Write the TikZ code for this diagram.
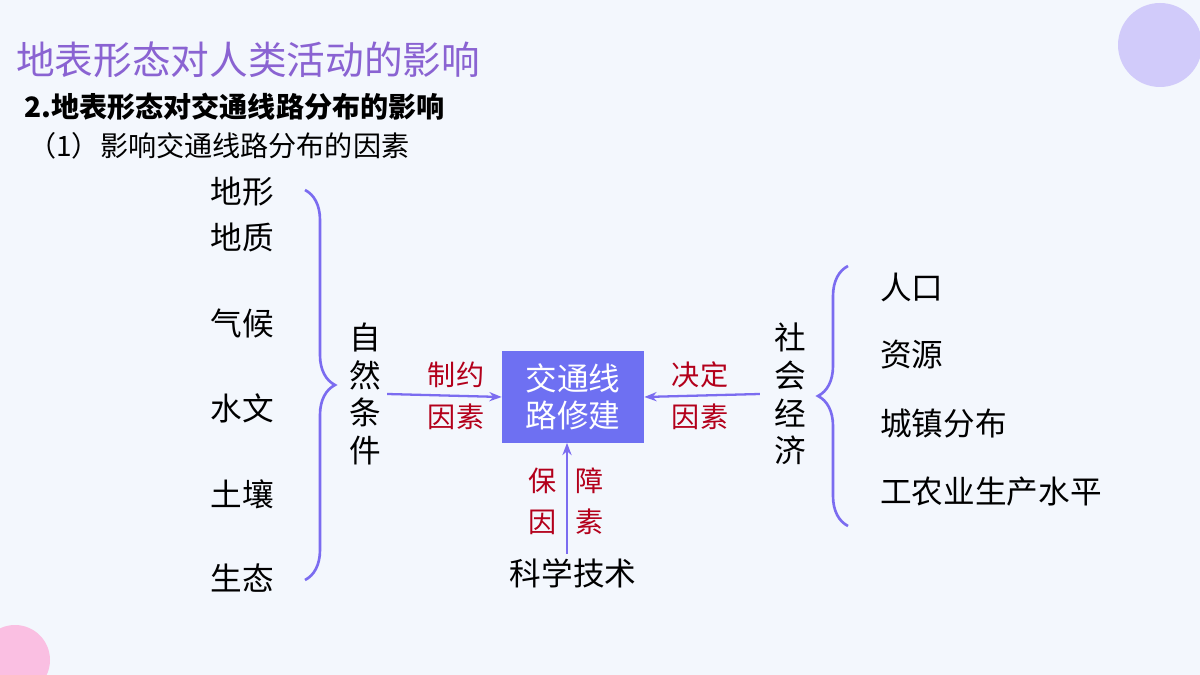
\documentclass[tikz,border=0pt]{standalone}
\usepackage{fontspec}
\setmainfont{Liberation Sans}
\newfontfamily\cjk{Noto Sans CJK SC}
\usetikzlibrary{decorations.pathreplacing, arrows.meta}
\definecolor{bgblue}{HTML}{F3F7FD}
\definecolor{titlepurple}{HTML}{8A63D2}
\definecolor{linepurple}{HTML}{7B6CF0}
\definecolor{boxblue}{HTML}{6E70F2}
\definecolor{darkred}{HTML}{B3001B}
\tikzset{
  item/.style={font=\cjk\fontsize{18}{20}\selectfont, inner sep=0pt},
  lbl/.style={font=\cjk\fontsize{16}{18}\selectfont, text=darkred, inner sep=0pt},
  vert/.style={font=\cjk\fontsize{18}{21.5}\selectfont, align=center, inner sep=0pt},
  link/.style={draw=linepurple, line width=1.3pt, -{Stealth[length=7pt]}},
  curly/.style={draw=linepurple, line width=1.5pt, decorate, decoration={brace, amplitude=0.6cm}}
}
\begin{document}
\begin{tikzpicture}[x=0.02cm, y=-0.02cm]

    \useasboundingbox (0,0) rectangle (1200,675);
    \clip (0,0) rectangle (1200,675);
    \fill[bgblue] (0,0) rectangle (1200,675);
    \fill[linepurple!35] (1160,45) circle (42);
    \fill[magenta!25] (15,660) circle (35);

    \node[anchor=west, font=\cjk\fontsize{22}{24}\selectfont, text=titlepurple] (title) at (10,60) {地表形态对人类活动的影响};
    \node[anchor=west, font=\cjk\bfseries\fontsize{16}{18}\selectfont] (sub) at (18,107) {2.地表形态对交通线路分布的影响};
    \node[anchor=west, font=\cjk\fontsize{16}{18}\selectfont] (sub2) at (22,146) {（1）影响交通线路分布的因素};

    % natural factors
    \node[item] (n1) at (242,192) {地形};
    \node[item] (n2) at (242,237) {地质};
    \node[item] (n3) at (242,323) {气候};
    \node[item] (n4) at (242,408) {水文};
    \node[item] (n5) at (242,494) {土壤};
    \node[item] (n6) at (242,578) {生态};
    \draw[curly] (305,190) -- (305,580);
    \node[vert] (nat) at (365,394) {自\\然\\条\\件};

    % centre
    \node[fill=boxblue, text=white, font=\cjk\fontsize{18}{21}\selectfont, align=center,
          minimum width=142*0.02cm, minimum height=91*0.02cm] (road) at (573,397) {交通线\\路修建};

    % social factors
    \node[vert] (soc) at (790,394) {社\\会\\经\\济};
    \draw[curly] (848,526) -- (848,266);
    \node[item, anchor=west] (s1) at (880,287) {人口};
    \node[item, anchor=west] (s2) at (880,355) {资源};
    \node[item, anchor=west] (s3) at (880,424) {城镇分布};
    \node[item, anchor=west] (s4) at (880,492) {工农业生产水平};

    \node[item] (tech) at (573,573) {科学技术};

    \draw[link] (nat.east) ++(6,0) coordinate (natout) (natout) -- (road.west);
    \draw[link] (soc.west) ++(-14,0) coordinate (socout) (socout) -- (road.east);
    \draw[link] (tech.north) ++(-6,-4) coordinate (techout) (techout) -- (road.south -| techout);

    \node[lbl] (l1) at (456,375) {制约};
    \node[lbl] (l2) at (456,417) {因素};
    \node[lbl] (l3) at (700,375) {决定};
    \node[lbl] (l4) at (700,417) {因素};
    \node[lbl] (l5) at (543,481) {保};
    \node[lbl] (l6) at (543,522) {因};
    \node[lbl] (l7) at (590,481) {障};
    \node[lbl] (l8) at (590,522) {素};
  \end{tikzpicture}
\end{document}
